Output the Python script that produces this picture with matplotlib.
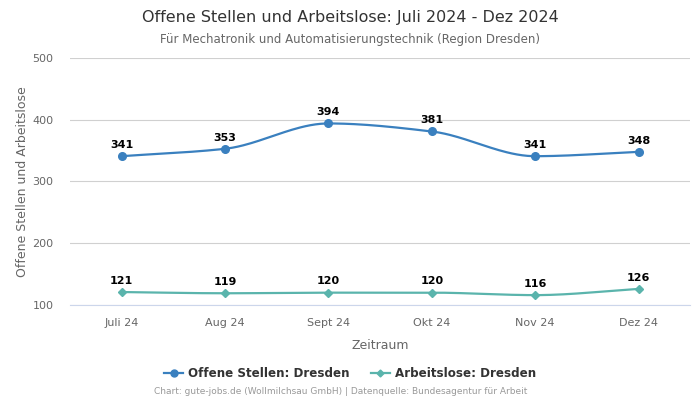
import numpy as np
import matplotlib
matplotlib.use("Agg")
from matplotlib import pyplot as plt
from matplotlib.lines import Line2D

months = ["Juli 24", "Aug 24", "Sept 24", "Okt 24", "Nov 24", "Dez 24"]
offene_stellen = [341, 353, 394, 381, 341, 348]
arbeitslose = [121, 119, 120, 120, 116, 126]

BLUE = "#3a80bf"
TEAL = "#5ab4ac"


def _monotone_curve(y, steps=40):
    # monotone cubic hermite (Fritsch-Carlson) through the data points
    y = np.asarray(y, dtype=float)
    x = np.arange(len(y), dtype=float)
    d = np.diff(y)
    m = np.zeros_like(y)
    m[0], m[-1] = d[0], d[-1]
    for i in range(1, len(y) - 1):
        if d[i - 1] * d[i] > 0:
            m[i] = 2.0 / (1.0 / d[i - 1] + 1.0 / d[i])
    xs, ys = [], []
    for i in range(len(y) - 1):
        t = np.linspace(0, 1, steps, endpoint=False)
        h00 = 2 * t**3 - 3 * t**2 + 1
        h10 = t**3 - 2 * t**2 + t
        h01 = -2 * t**3 + 3 * t**2
        h11 = t**3 - t**2
        xs.append(x[i] + t)
        ys.append(h00 * y[i] + h10 * m[i] + h01 * y[i + 1] + h11 * m[i + 1])
    xs.append([x[-1]])
    ys.append([y[-1]])
    return np.concatenate(xs), np.concatenate(ys)


def _plot_series(ax, values, color, marker, size):
    cx, cy = _monotone_curve(values)
    ax.plot(cx, cy, color=color, lw=1.6, zorder=3)
    x = np.arange(len(values))
    ax.plot(x, values, ls="none", marker=marker, ms=size, color=color, zorder=4)
    for xi, v in zip(x, values):
        ax.annotate(str(v), (xi, v), xytext=(0, 4.5), textcoords="offset points",
                    ha="center", va="bottom", fontsize=8, fontweight="bold",
                    color="black", zorder=5)


def main():
    fig = plt.figure(figsize=(7, 4), dpi=100)
    ax = fig.add_axes([0.1, 0.2375, 0.886, 0.6175])

    _plot_series(ax, offene_stellen, BLUE, "o", 5.5)
    _plot_series(ax, arbeitslose, TEAL, "D", 4)

    ax.set_xlim(-0.5, len(months) - 0.5)
    ax.set_ylim(100, 500)
    ax.set_yticks([100, 200, 300, 400, 500])
    ax.set_xticks(range(len(months)))
    ax.set_xticklabels(months)
    ax.grid(axis="y", color="#d0d0d0", lw=0.8)
    ax.set_axisbelow(True)
    for side in ["top", "right", "left"]:
        ax.spines[side].set_visible(False)
    ax.spines["bottom"].set_color("#ccd6eb")
    ax.tick_params(axis="both", length=0, labelsize=8, labelcolor="#666666")
    ax.tick_params(axis="y", pad=12)
    ax.tick_params(axis="x", pad=9)
    ax.set_xlabel("Zeitraum", fontsize=9, color="#666666", labelpad=8)
    ax.set_ylabel("Offene Stellen und Arbeitslose", fontsize=9, color="#666666", labelpad=2)

    fig.text(0.5, 0.957, "Offene Stellen und Arbeitslose: Juli 2024 - Dez 2024",
             ha="center", va="center", fontsize=11.5, color="#333333")
    fig.text(0.5, 0.902, "Für Mechatronik und Automatisierungstechnik (Region Dresden)",
             ha="center", va="center", fontsize=8.5, color="#666666")

    handles = [
        Line2D([], [], color=BLUE, marker="o", ms=5, lw=1.6),
        Line2D([], [], color=TEAL, marker="D", ms=3.5, lw=1.6),
    ]
    fig.legend(handles, ["Offene Stellen: Dresden", "Arbeitslose: Dresden"],
               loc="center", bbox_to_anchor=(0.5, 0.067), ncol=2, frameon=False,
               prop={"size": 8.6, "weight": "bold"}, labelcolor="#333333",
               handlelength=1.6, handletextpad=0.4, columnspacing=1.8)

    fig.text(0.486, 0.02, "Chart: gute-jobs.de (Wollmilchsau GmbH) | Datenquelle: Bundesagentur für Arbeit",
             ha="center", va="center", fontsize=6.5, color="#999999")

    fig.savefig("out.png", dpi=100)


if __name__ == "__main__":
    main()
